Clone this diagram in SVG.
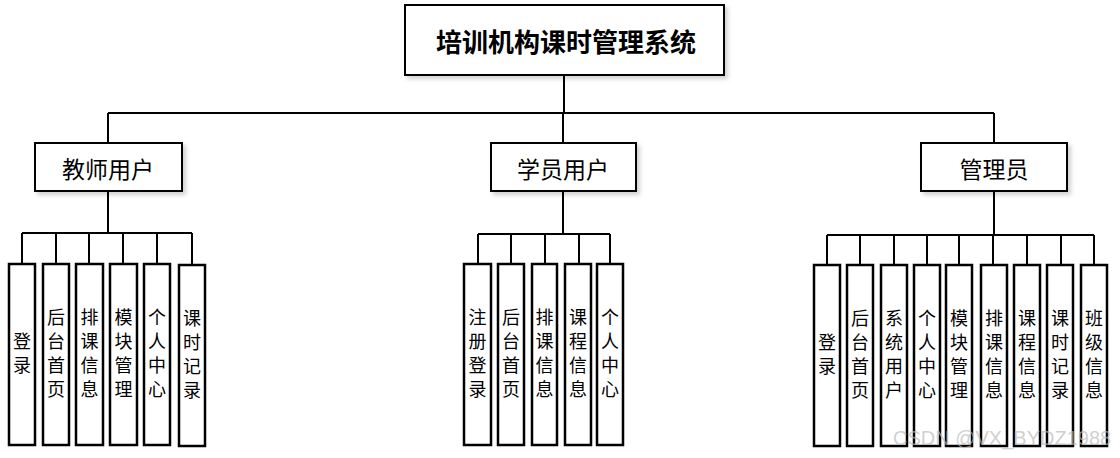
<svg xmlns="http://www.w3.org/2000/svg" width="1120" height="458" viewBox="0 0 1120 458">
<defs>
<filter id="sh" x="-20%" y="-20%" width="140%" height="140%">
<feDropShadow dx="3" dy="3" stdDeviation="2" flood-color="#000" flood-opacity="0.18"/>
</filter>
<style>
.box{fill:#fff;stroke:#000;stroke-width:2;filter:url(#sh)}
.leaf{fill:#fff;stroke:#000;stroke-width:2.5}
.con{fill:none;stroke:#000;stroke-width:2}
.t{font-family:"Noto Sans CJK SC","Microsoft YaHei",sans-serif;fill:#000;text-anchor:middle}
.title{font-size:26px;font-weight:bold}
.mid{font-size:23px}
.lt{font-size:18px}
.wm{font-family:"Liberation Sans",Arial,sans-serif;font-size:20px;fill:#bbb;fill-opacity:0.7}
</style>
</defs>
<rect width="1120" height="458" fill="#fff"/>
<g id="connectors">
<path class="con" d="M564 75V113M108 113H994M108 113V143M563 113V143M994 113V143"/>
<path class="con" d="M108 191V233M22 233H192M22 233V264M56 233V264M89 233V264M123 233V264M157 233V264M192 233V265"/>
<path class="con" d="M563 191V234M478 234H610M478 234V264M511 234V264M545 234V264M579 234V264M610 234V264"/>
<path class="con" d="M994 191V235M827 235H1094M827 235V265M860 235V265M894 235V265M927 235V265M959 235V265M993 235V265M1027 235V265M1061 235V265M1094 235V265"/>
</g>
<g id="root"><rect class="box" x="405" y="5" width="319" height="70"/><text class="t title" x="566" y="52">培训机构课时管理系统</text></g>
<g id="teacher"><rect class="box" x="35" y="143" width="147" height="48"/><text class="t mid" x="108" y="178">教师用户</text></g>
<g id="student"><rect class="box" x="491" y="143" width="145" height="48"/><text class="t mid" x="563" y="178">学员用户</text></g>
<g id="admin"><rect class="box" x="921" y="143" width="146" height="48"/><text class="t mid" x="994" y="178">管理员</text></g>

<g id="t1"><rect class="leaf" x="9" y="264" width="26" height="181"/><text class="t lt" x="22"><tspan x="22" y="348">登</tspan><tspan x="22" y="372">录</tspan></text></g>
<g id="t2"><rect class="leaf" x="43" y="264" width="26" height="181"/><text class="t lt"><tspan x="56" y="324">后</tspan><tspan x="56" y="348">台</tspan><tspan x="56" y="372">首</tspan><tspan x="56" y="396">页</tspan></text></g>
<g id="t3"><rect class="leaf" x="76" y="264" width="27" height="181"/><text class="t lt"><tspan x="89.5" y="324">排</tspan><tspan x="89.5" y="348">课</tspan><tspan x="89.5" y="372">信</tspan><tspan x="89.5" y="396">息</tspan></text></g>
<g id="t4"><rect class="leaf" x="110" y="264" width="27" height="181"/><text class="t lt"><tspan x="123.5" y="324">模</tspan><tspan x="123.5" y="348">块</tspan><tspan x="123.5" y="372">管</tspan><tspan x="123.5" y="396">理</tspan></text></g>
<g id="t5"><rect class="leaf" x="144" y="264" width="26" height="181"/><text class="t lt"><tspan x="157" y="324">个</tspan><tspan x="157" y="348">人</tspan><tspan x="157" y="372">中</tspan><tspan x="157" y="396">心</tspan></text></g>
<g id="t6"><rect class="leaf" x="179" y="265" width="26" height="181"/><text class="t lt"><tspan x="192" y="325">课</tspan><tspan x="192" y="349">时</tspan><tspan x="192" y="373">记</tspan><tspan x="192" y="397">录</tspan></text></g>

<g id="s1"><rect class="leaf" x="464" y="264" width="27" height="181"/><text class="t lt"><tspan x="477.5" y="324">注</tspan><tspan x="477.5" y="348">册</tspan><tspan x="477.5" y="372">登</tspan><tspan x="477.5" y="396">录</tspan></text></g>
<g id="s2"><rect class="leaf" x="498" y="264" width="26" height="181"/><text class="t lt"><tspan x="511" y="324">后</tspan><tspan x="511" y="348">台</tspan><tspan x="511" y="372">首</tspan><tspan x="511" y="396">页</tspan></text></g>
<g id="s3"><rect class="leaf" x="532" y="264" width="25" height="181"/><text class="t lt"><tspan x="544.5" y="324">排</tspan><tspan x="544.5" y="348">课</tspan><tspan x="544.5" y="372">信</tspan><tspan x="544.5" y="396">息</tspan></text></g>
<g id="s4"><rect class="leaf" x="565" y="264" width="26" height="181"/><text class="t lt"><tspan x="578" y="324">课</tspan><tspan x="578" y="348">程</tspan><tspan x="578" y="372">信</tspan><tspan x="578" y="396">息</tspan></text></g>
<g id="s5"><rect class="leaf" x="597" y="264" width="26" height="181"/><text class="t lt"><tspan x="610" y="324">个</tspan><tspan x="610" y="348">人</tspan><tspan x="610" y="372">中</tspan><tspan x="610" y="396">心</tspan></text></g>

<g id="a1"><rect class="leaf" x="814" y="265" width="26" height="181"/><text class="t lt"><tspan x="827" y="349">登</tspan><tspan x="827" y="373">录</tspan></text></g>
<g id="a2"><rect class="leaf" x="847" y="265" width="26" height="181"/><text class="t lt"><tspan x="860" y="325">后</tspan><tspan x="860" y="349">台</tspan><tspan x="860" y="373">首</tspan><tspan x="860" y="397">页</tspan></text></g>
<g id="a3"><rect class="leaf" x="881" y="265" width="26" height="181"/><text class="t lt"><tspan x="894" y="325">系</tspan><tspan x="894" y="349">统</tspan><tspan x="894" y="373">用</tspan><tspan x="894" y="397">户</tspan></text></g>
<g id="a4"><rect class="leaf" x="914" y="265" width="26" height="181"/><text class="t lt"><tspan x="927" y="325">个</tspan><tspan x="927" y="349">人</tspan><tspan x="927" y="373">中</tspan><tspan x="927" y="397">心</tspan></text></g>
<g id="a5"><rect class="leaf" x="946" y="265" width="26" height="181"/><text class="t lt"><tspan x="959" y="325">模</tspan><tspan x="959" y="349">块</tspan><tspan x="959" y="373">管</tspan><tspan x="959" y="397">理</tspan></text></g>
<g id="a6"><rect class="leaf" x="981" y="265" width="26" height="181"/><text class="t lt"><tspan x="994" y="325">排</tspan><tspan x="994" y="349">课</tspan><tspan x="994" y="373">信</tspan><tspan x="994" y="397">息</tspan></text></g>
<g id="a7"><rect class="leaf" x="1014" y="265" width="26" height="181"/><text class="t lt"><tspan x="1027" y="325">课</tspan><tspan x="1027" y="349">程</tspan><tspan x="1027" y="373">信</tspan><tspan x="1027" y="397">息</tspan></text></g>
<g id="a8"><rect class="leaf" x="1047" y="265" width="26" height="181"/><text class="t lt"><tspan x="1060" y="325">课</tspan><tspan x="1060" y="349">时</tspan><tspan x="1060" y="373">记</tspan><tspan x="1060" y="397">录</tspan></text></g>
<g id="a9"><rect class="leaf" x="1081" y="265" width="26" height="181"/><text class="t lt"><tspan x="1094" y="325">班</tspan><tspan x="1094" y="349">级</tspan><tspan x="1094" y="373">信</tspan><tspan x="1094" y="397">息</tspan></text></g>

<text class="wm" x="893" y="445">CSDN @VX_BYDZ1988</text>
</svg>
